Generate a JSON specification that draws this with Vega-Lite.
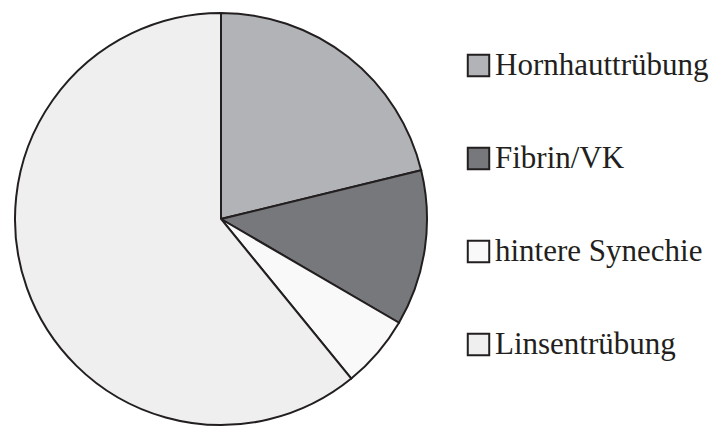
{
  "$schema": "https://vega.github.io/schema/vega-lite/v6.json",
  "width": 442,
  "height": 438,
  "padding": 0,
  "background": "white",
  "config": {"view": {"stroke": null}},
  "data": {"values": [
    {"kategorie": "Hornhauttrübung", "anteil": 21.2, "ord": 1},
    {"kategorie": "Fibrin/VK", "anteil": 12.2, "ord": 2},
    {"kategorie": "hintere Synechie", "anteil": 5.7, "ord": 3},
    {"kategorie": "Linsentrübung", "anteil": 60.9, "ord": 4}
  ]},
  "mark": {"type": "arc", "outerRadius": 206, "stroke": "#231f20", "strokeWidth": 2},
  "encoding": {
    "theta": {"field": "anteil", "type": "quantitative", "stack": true},
    "order": {"field": "ord", "type": "quantitative"},
    "color": {
      "field": "kategorie", "type": "nominal",
      "scale": {
        "domain": ["Hornhauttrübung", "Fibrin/VK", "hintere Synechie", "Linsentrübung"],
        "range": ["#b2b3b6", "#77787b", "#f9f9f9", "#efefef"]
      },
      "legend": {
        "title": null,
        "orient": "none",
        "legendX": 463,
        "legendY": 50,
        "symbolType": "square",
        "symbolSize": 460,
        "symbolStrokeColor": "#231f20",
        "symbolStrokeWidth": 2,
        "symbolOpacity": 1,
        "labelFont": "Liberation Serif",
        "labelFontSize": 31,
        "labelColor": "#231f20",
        "labelOffset": 1,
        "labelLimit": 400,
        "rowPadding": 61,
        "padding": 0
      }
    }
  }
}
